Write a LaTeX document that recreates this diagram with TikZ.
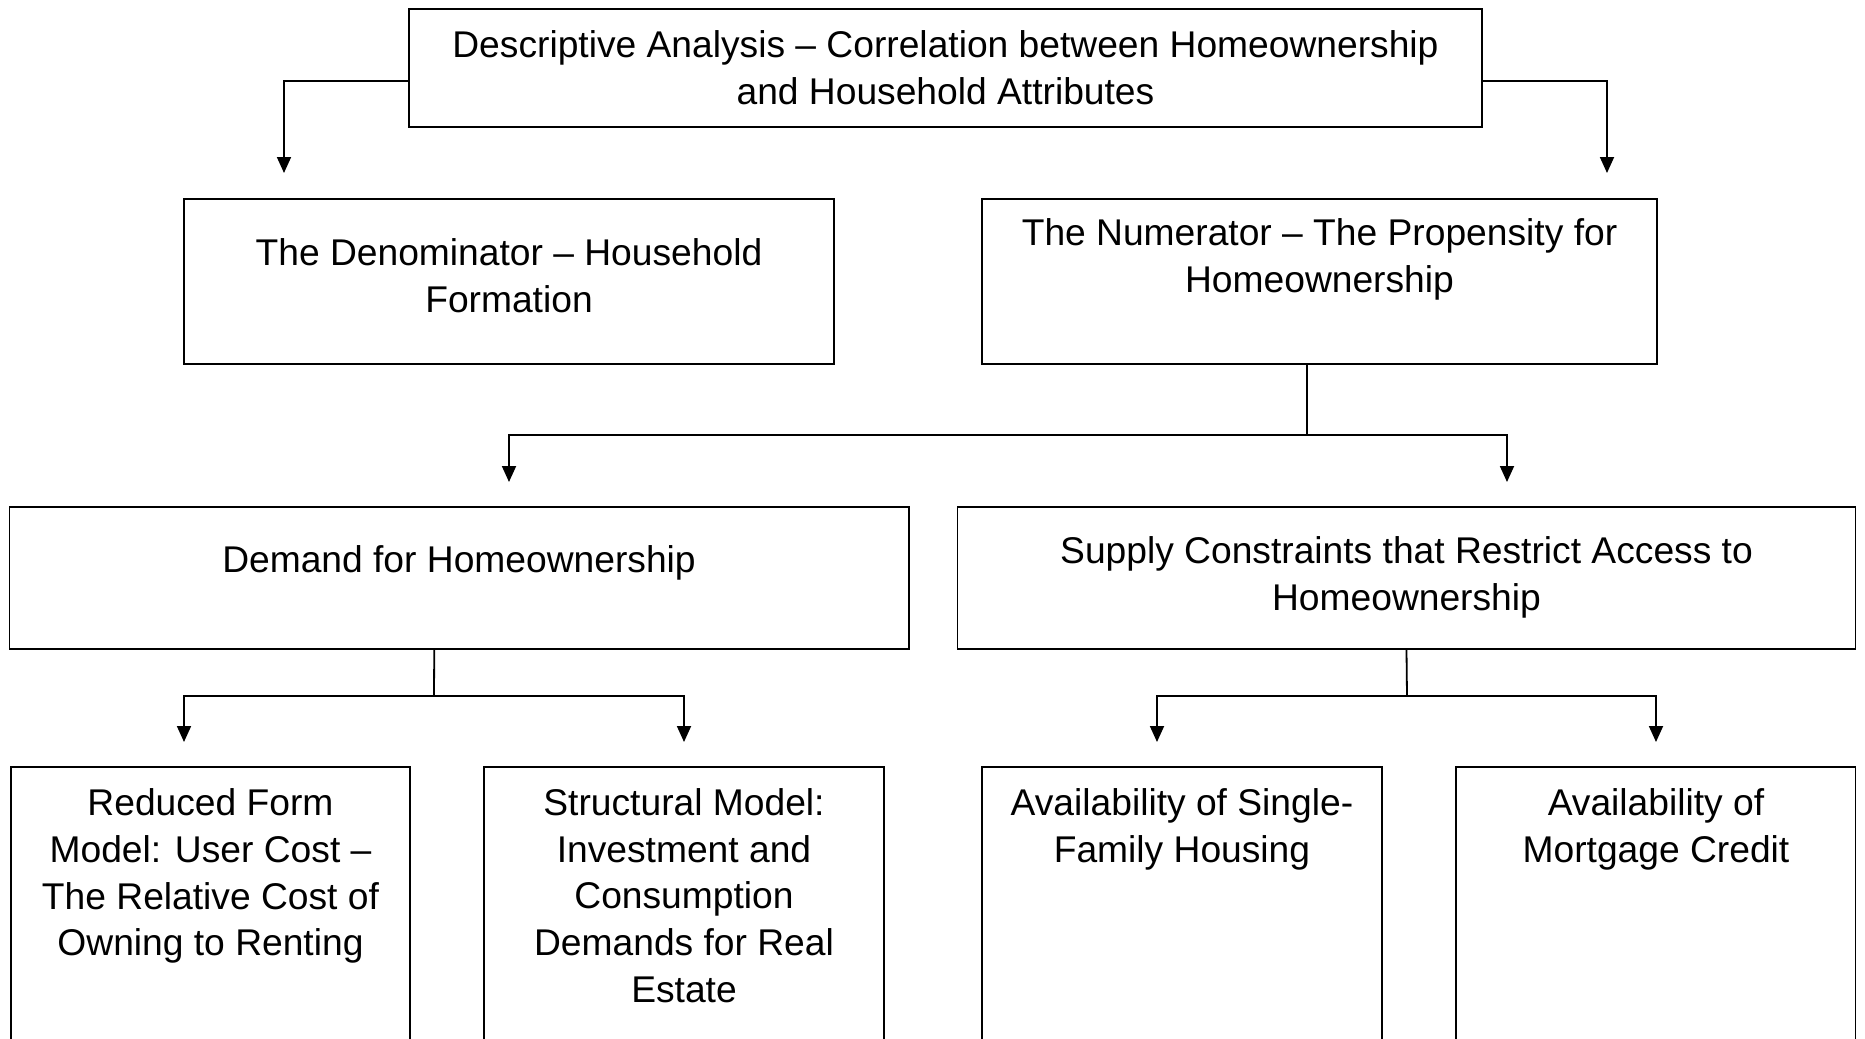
\documentclass[tikz,border=0pt]{standalone}
\usepackage{fontspec}
\setmainfont{Liberation Sans}
\usetikzlibrary{arrows.meta}

\begin{document}
\begin{tikzpicture}[
        x=0.5pt, y=-0.5pt,
        box/.style={rectangle, draw, line width=0.9pt, inner sep=0pt},
        txt/.style={align=center, inner sep=0pt, font=\fontsize{18.6}{23.4}\selectfont},
        arrow/.style={-{Triangle[length=8pt,width=7pt]}, line width=0.9pt}
    ]
        \useasboundingbox (0,0) rectangle (1865,1039);
        \clip (0,0) rectangle (1865,1039);

        % Descriptive analysis
        \node[box, minimum width=536.5pt, minimum height=59pt] (top) at (945.5,68) {};
        \node[txt] (top-t) at (945.5,67.5) {Descriptive Analysis -- Correlation between Homeownership\\and Household Attributes};

        % Denominator and numerator
        \node[box, minimum width=325pt, minimum height=82.5pt] (denom) at (509,281.5) {};
        \node[txt] (denom-t) at (509,275.5) {The Denominator -- Household\\Formation};
        \node[box, minimum width=337.5pt, minimum height=82.5pt] (numer) at (1319.5,281.5) {};
        \node[txt] (numer-t) at (1319.5,259.5) {The Numerator -- The Propensity for\\Homeownership};
        \coordinate (denom-in) at (284,173);
        \coordinate (numer-in) at (1607,173);
        \draw[arrow] ([yshift=-6.5pt]top.west) -| (denom-in);
        \draw[arrow] ([yshift=-6.5pt]top.east) -| (numer-in);

        % Demand and supply
        \node[box, minimum width=449.75pt, minimum height=71pt] (demand) at (459.25,578) {};
        \node[txt] (demand-t) at (459,563) {Demand for Homeownership};
        \node[box, minimum width=449pt, minimum height=71pt] (supply) at (1406.5,578) {};
        \node[txt] (supply-t) at (1406.5,577) {Supply Constraints that Restrict Access to\\Homeownership};
        \coordinate (numer-split) at (1307,435);
        \coordinate (demand-in) at (509,482);
        \coordinate (supply-in) at (1507,482);
        \draw[line width=0.9pt] ([xshift=-6.25pt]numer.south) -- (numer-split);
        \draw[arrow] (numer-split) -| (demand-in);
        \draw[arrow] (numer-split) -| (supply-in);

        % Demand models
        \node[box, minimum width=199.5pt, minimum height=166.5pt] (reduced) at (210.5,933.5) {};
        \node[txt] (reduced-t) at (210.5,876) {Reduced Form\\Model: User Cost --\\The Relative Cost of\\Owning to Renting};
        \node[box, minimum width=200pt, minimum height=166.5pt] (struct) at (684,933.5) {};
        \node[txt] (struct-t) at (684,895.5) {Structural Model:\\Investment and\\Consumption\\Demands for Real\\Estate};
        \coordinate (demand-split) at (434,696);
        \coordinate (reduced-in) at (184,742);
        \coordinate (struct-in) at (684,742);
        \draw[line width=0.9pt] ([xshift=-12.5pt]demand.south) -- (demand-split);
        \draw[arrow] (demand-split) -| (reduced-in);
        \draw[arrow] (demand-split) -| (struct-in);

        % Supply constraints
        \node[box, minimum width=200pt, minimum height=166.5pt] (single) at (1182,933.5) {};
        \node[txt] (single-t) at (1182,829) {Availability of Single-\\Family Housing};
        \node[box, minimum width=199.75pt, minimum height=166.5pt] (mortgage) at (1655.75,933.5) {};
        \node[txt] (mortgage-t) at (1656,829) {Availability of\\Mortgage Credit};
        \coordinate (supply-split) at (1407,696);
        \coordinate (single-in) at (1157,742);
        \coordinate (mortgage-in) at (1656,742);
        \draw[line width=0.9pt] (supply.south) -- (supply-split);
        \draw[arrow] (supply-split) -| (single-in);
        \draw[arrow] (supply-split) -| (mortgage-in);
    \end{tikzpicture}
\end{document}
